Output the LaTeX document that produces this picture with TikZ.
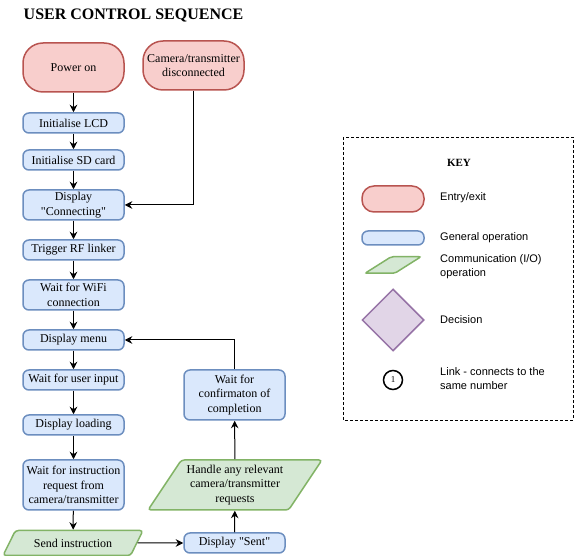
\documentclass[tikz,border=0pt]{standalone}
\usepackage{fontspec}
\setmainfont{Liberation Serif}
\newfontfamily\keyfont{Liberation Sans}
\usetikzlibrary{arrows.meta,shapes.geometric}
\definecolor{entfill}{HTML}{F8CECC}
\definecolor{entline}{HTML}{B85450}
\definecolor{opfill}{HTML}{DAE8FC}
\definecolor{opline}{HTML}{6C8EBF}
\definecolor{comfill}{HTML}{D5E8D4}
\definecolor{comline}{HTML}{82B366}
\definecolor{decfill}{HTML}{E1D5E7}
\definecolor{decline}{HTML}{9673A6}

\begin{document}
\begin{tikzpicture}[x=1pt,y=-1pt,
  every node/.style={inner sep=0pt,font=\fontsize{12}{14.5}\selectfont,align=center},
  ent/.style={draw=entline,fill=entfill,line width=1.5pt,rounded corners=20pt,minimum width=101pt,minimum height=49pt},
  op/.style={draw=opline,fill=opfill,line width=1.5pt,rounded corners=6pt,minimum width=101pt,minimum height=20pt},
  comm/.style={trapezium,trapezium stretches=true,draw=comline,fill=comfill,line width=1.5pt,rounded corners=3pt},
  dec/.style={diamond,draw=decline,fill=decfill,line width=1.5pt,minimum width=62pt,minimum height=62pt},
  lnk/.style={circle,draw,line width=1.5pt,minimum size=19pt,font=\fontsize{9}{10}\selectfont},
  keytext/.style={anchor=west,align=left,font=\keyfont\fontsize{11}{14}\selectfont},
  arr/.style={-{Stealth[length=7.5pt,width=7.5pt,inset=2.5pt]},line width=1pt}]
\useasboundingbox (0,0) rectangle (574,556);

\node (title) at (133.5,16) {\fontsize{16}{18}\selectfont\bfseries USER CONTROL SEQUENCE};

\node[ent] (power) at (73.5,67.5) {Power on};
\node[ent] (cam) at (193.5,65.5) {Camera/transmitter\\disconnected};
\node[op] (lcd) at (73.5,123) {Initialise LCD};
\node[op] (sd) at (73.5,160) {Initialise SD card};
\node[op,minimum height=30pt] (conn) at (73.5,205) {Display\\\textquotedbl Connecting\textquotedbl};
\node[op] (rf) at (73.5,250) {Trigger RF linker};
\node[op,minimum height=30pt] (wifi) at (73.5,295) {Wait for WiFi\\connection};
\node[op] (menu) at (73.5,340) {Display menu};
\node[op] (input) at (73.5,380) {Wait for user input};
\node[op] (load) at (73.5,425) {Display loading};
\node[op,minimum height=50pt] (req) at (73.5,485) {Wait for instruction\\request from\\camera/transmitter};
\node[comm,trapezium left angle=45,trapezium right angle=135,minimum width=140pt,minimum height=25pt] (send) at (73,543) {Send instruction};
\node[op] (sent) at (234.5,543) {Display \textquotedbl Sent\textquotedbl};
\node[comm,trapezium left angle=53,trapezium right angle=127,minimum width=174pt,minimum height=50pt] (handle) at (235,485) {Handle any relevant\\camera/transmitter\\requests};
\node[op,minimum height=50pt] (conf) at (234.5,395) {Wait for\\confirmaton of\\completion};

\draw[arr] (power) -- (lcd);
\draw[arr] (lcd) -- (sd);
\draw[arr] (sd) -- (conn);
\draw[arr] (conn) -- (rf);
\draw[arr] (rf) -- (wifi);
\draw[arr] (wifi) -- (menu);
\draw[arr] (menu) -- (input);
\draw[arr] (input) -- (load);
\draw[arr] (load) -- (req);
\draw[arr] (req) -- (send);
\draw[arr] (cam.south) |- (conn.east);
\draw[arr] (send.east) -- (sent.west);
\draw[arr] (sent) -- (handle);
\draw[arr] (handle) -- (conf);
\draw[arr] (conf.north) |- (menu.east);

\draw[dashed,dash pattern=on 3pt off 2pt,line width=0.8pt] (343,137) rectangle (573,420);
\node (key) at (459,163) {\fontsize{11}{13}\selectfont\bfseries KEY};
\node[ent,minimum width=62pt,minimum height=26pt,rounded corners=12pt] (kent) at (393,199) {};
\node[keytext] (tent) at (440,198) {Entry/exit};
\node[op,minimum width=62pt,minimum height=14pt] (kop) at (393,238) {};
\node[keytext] (top) at (440,238) {General operation};
\node[comm,inner sep=1pt,trapezium left angle=49,trapezium right angle=131,minimum width=56pt,minimum height=14pt,rounded corners=2pt] (kcom) at (393,265) {\strut};
\node[keytext] (tcom) at (440,267) {Communication (I/O)\\operation};
\node[dec,inner sep=1pt] (kdec) at (393,320) {\strut};
\node[keytext] (tdec) at (440,320) {Decision};
\node[lnk] (klnk) at (393,380) {1};
\node[keytext] (tlnk) at (440,379) {Link - connects to the\\same number};
\end{tikzpicture}
\end{document}
